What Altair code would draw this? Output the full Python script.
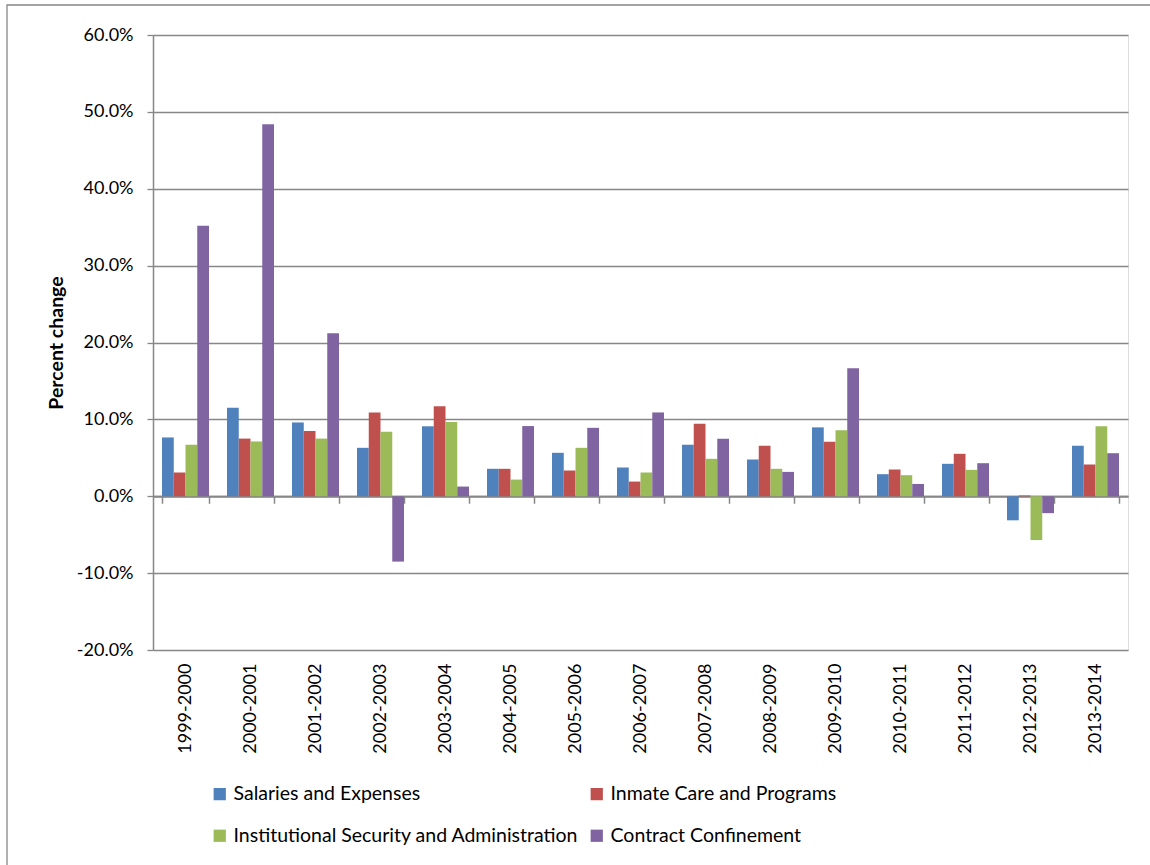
import altair as alt
import pandas as pd

years = ["1999-2000", "2000-2001", "2001-2002", "2002-2003", "2003-2004",
         "2004-2005", "2005-2006", "2006-2007", "2007-2008", "2008-2009",
         "2009-2010", "2010-2011", "2011-2012", "2012-2013", "2013-2014"]

series = ["Salaries and Expenses", "Inmate Care and Programs",
          "Institutional Security and Administration", "Contract Confinement"]

salaries = [7.65, 11.5, 9.6, 6.3, 9.1, 3.57, 5.65, 3.74, 6.7, 4.78, 8.96, 2.87, 4.22, -3.13, 6.57]
inmate = [3.09, 7.5, 8.5, 10.9, 11.7, 3.57, 3.35, 1.91, 9.43, 6.57, 7.09, 3.48, 5.52, 0.1, 4.13]
security = [6.7, 7.13, 7.5, 8.4, 9.65, 2.17, 6.3, 3.09, 4.87, 3.57, 8.57, 2.74, 3.43, -5.7, 9.09]
contract = [35.2, 48.4, 21.2, -8.5, 1.26, 9.13, 8.9, 10.9, 7.48, 3.17, 16.65, 1.6, 4.3, -2.2, 5.6]

colors = ["#4F81BD", "#C0504D", "#9BBB59", "#8064A2"]

rows = []
for s, vals in zip(series, [salaries, inmate, security, contract]):
    for y, v in zip(years, vals):
        rows.append({"year": y, "series": s, "value": v / 100.0})
df = pd.DataFrame(rows)

FONT = "Lato"
GRID = "#878787"

xscale = alt.Scale(domain=years, paddingInner=0.277, paddingOuter=0.1385)
yscale = alt.Scale(domain=[-0.2, 0.6], nice=False)

yaxis = alt.Axis(title="Percent change",
                 values=[-0.2, -0.1, 0, 0.1, 0.2, 0.3, 0.4, 0.5, 0.6],
                 labelExpr="replace(format(datum.value, '.1%'), '\u2212', '-')",
                 labelFontSize=18, labelFont=FONT, labelColor="#000000",
                 labelPadding=14, tickSize=6, tickColor=GRID, tickWidth=1.3,
                 domainColor=GRID, domainWidth=1.5,
                 gridColor=GRID, gridWidth=1.3, grid=True,
                 titleFont=FONT, titleFontSize=19.5, titleFontWeight="bold",
                 titleColor="#000000", titlePadding=10)

base = alt.Chart(df)

bars = base.mark_bar().encode(
    x=alt.X("year:N", scale=xscale, sort=years,
            axis=alt.Axis(title=None, orient="bottom", labelAngle=-90, labelFontSize=18,
                          labelFont=FONT, labelColor="#000000", labelPadding=13,
                          domain=False, ticks=False, grid=False)),
    xOffset=alt.XOffset("series:N", sort=series, scale=alt.Scale(domain=series)),
    y=alt.Y("value:Q", scale=yscale, axis=yaxis),
    color=alt.Color("series:N", sort=series,
                    scale=alt.Scale(domain=series, range=colors),
                    legend=alt.Legend(title=None, orient="none", legendX=57, legendY=749,
                                      columns=2, direction="horizontal",
                                      symbolType="square", symbolSize=150,
                                      symbolStrokeWidth=0, symbolOpacity=1,
                                      labelFont=FONT, labelFontSize=19.5, labelColor="#000000",
                                      labelLimit=500, columnPadding=8, rowPadding=21,
                                      labelOffset=4)),
)

zero_axis = base.mark_bar(opacity=0).encode(
    x=alt.X("year:N", scale=xscale, sort=years,
            axis=alt.Axis(title=None, orient="bottom", labels=False, offset=-153.75,
                          tickBand="extent", ticks=True, tickSize=7, tickColor=GRID,
                          tickWidth=1.5, domain=True, domainColor=GRID, domainWidth=2,
                          grid=False)),
    y=alt.Y("value:Q", scale=yscale, axis=yaxis),
)

border = alt.Chart(alt.Data(values=[{}])).mark_rect(
    fill=None, stroke="#878787", strokeWidth=1.3
).encode(
    x=alt.value(-146), x2=alt.value(1010), y=alt.value(-30), y2=alt.value(840)
)

chart = alt.layer(border, bars, zero_axis).resolve_axis(x="independent").properties(
    width=975, height=615,
    autosize=alt.AutoSizeParams(type="none"),
    padding={"left": 153, "top": 35, "right": 22, "bottom": 215},
).configure_view(stroke=None).configure(background="white")

chart.save("out.html", embed_options={"renderer": "svg", "actions": False})
